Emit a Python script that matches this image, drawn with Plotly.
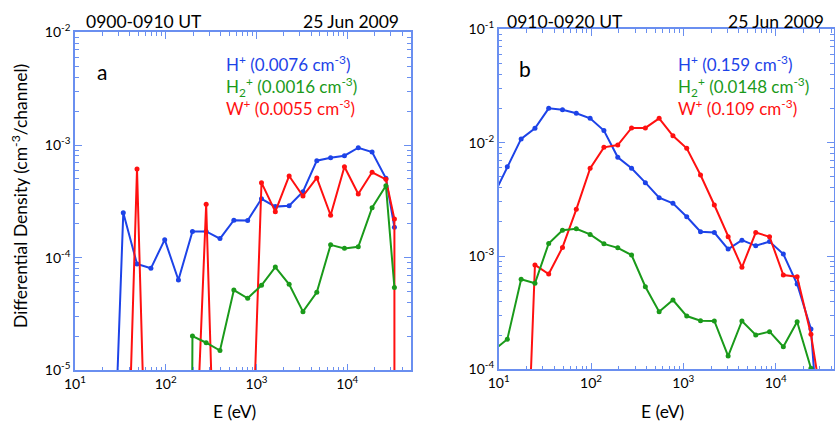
import plotly.graph_objects as go

# ---------------- data ----------------
# Panel a (0900-0910 UT): energy channels (eV)
E_a = [24.0, 34.1, 48.3, 68.7, 97.5, 138, 197, 279, 396, 563, 799, 1134, 1611,
       2287, 3247, 4610, 6546, 9295, 13200, 18740, 26600, 33000]
H_a = [1e-7, 2.5e-4, 8.8e-5, 8.05e-5, 1.445e-4, 6.34e-5, 1.71e-4, 1.71e-4, 1.477e-4,
       2.15e-4, 2.14e-4, 3.33e-4, 2.84e-4, 2.89e-4, 3.85e-4, 7.26e-4, 7.7e-4,
       8.04e-4, 9.46e-4, 8.67e-4, 5.06e-4, 1.86e-4]
H2_a = [None, None, None, None, None, 1e-30, 2.02e-5, 1.76e-5, 1.50e-5, 5.16e-5,
        4.36e-5, 5.69e-5, 8.26e-5, 5.81e-5, 3.32e-5, 4.93e-5, 1.30e-4, 1.21e-4,
        1.25e-4, 2.78e-4, 4.35e-4, 5.45e-5]
W_a = [1e-8, 5e-8, 6.12e-4, 2.5e-8, 1e-8, 1e-8, 3e-7, 2.98e-4, 2.4e-8, 1e-8, 1e-7,
       4.63e-4, 2.56e-4, 5.31e-4, 3.52e-4, 5.1e-4, 2.38e-4, 6.42e-4, 3.67e-4,
       5.73e-4, 4.96e-4, 2.2e-4]
E_a_W = E_a + [33100]
W_a = W_a + [1e-30]

# Panel b (0910-0920 UT)
E_b = [8.79, 12.4, 17.5, 24.7, 34.8, 49.1, 69.3, 97.8, 138, 195, 275, 388, 547,
       772, 1089, 1536, 2168, 3059, 4315, 6089, 8590, 12120, 17100, 24130, 34040]
H_b = [3.42e-3, 6.14e-3, 1.08e-2, 1.34e-2, 2.01e-2, 1.95e-2, 1.82e-2, 1.64e-2,
       1.28e-2, 7.43e-3, 5.94e-3, 4.44e-3, 3.27e-3, 2.92e-3, 2.22e-3, 1.64e-3,
       1.61e-3, 1.15e-3, 1.38e-3, 1.23e-3, 1.34e-3, 1.04e-3, 5.66e-4, 2.27e-4, 5e-6]
H2_b = [1.47e-4, 1.84e-4, 6.22e-4, 5.74e-4, 1.29e-3, 1.69e-3, 1.74e-3, 1.55e-3,
        1.28e-3, 1.18e-3, 1.02e-3, 5.36e-4, 3.22e-4, 4.09e-4, 2.95e-4, 2.68e-4,
        2.67e-4, 1.31e-4, 2.67e-4, 2.01e-4, 2.15e-4, 1.58e-4, 2.63e-4, 1.02e-4, None]
W_b = [1e-8, 1e-8, 5e-7, 8.34e-4, 6.93e-4, 1.19e-3, 2.58e-3, 5.94e-3, 9.1e-3,
       9.54e-3, 1.35e-2, 1.35e-2, 1.64e-2, 1.15e-2, 8.93e-3, 5.19e-3, 2.82e-3,
       1.48e-3, 7.94e-4, 1.61e-3, 1.48e-3, 6.79e-4, 6.56e-4, 2.04e-4, 3.5e-5]

x_tickvals = [10, 100, 1000, 10000]
x_ticktext = ["10<sup>1</sup>", "10<sup>2</sup>", "10<sup>3</sup>", "10<sup>4</sup>"]
ya_tickvals = [1e-5, 1e-4, 1e-3, 1e-2]
ya_ticktext = ["10<sup>-5</sup>", "10<sup>-4</sup>", "10<sup>-3</sup>", "10<sup>-2</sup>"]
yb_tickvals = [1e-4, 1e-3, 1e-2, 1e-1]
yb_ticktext = ["10<sup>-4</sup>", "10<sup>-3</sup>", "10<sup>-2</sup>", "10<sup>-1</sup>"]

legend_a = ["H<sup>+</sup> (0.0076 cm<sup>-3</sup>)",
            "H<sub>2</sub><sup>+</sup> (0.0016 cm<sup>-3</sup>)",
            "W<sup>+</sup> (0.0055 cm<sup>-3</sup>)"]
legend_b = ["H<sup>+</sup> (0.159 cm<sup>-3</sup>)",
            "H<sub>2</sub><sup>+</sup> (0.0148 cm<sup>-3</sup>)",
            "W<sup>+</sup> (0.109 cm<sup>-3</sup>)"]

# ---------------- style ----------------
BLUE = "#1d43e8"
GREEN = "#1a9a1a"
RED = "#ff1010"
AXC = "#6a8ff0"
FONT = "Lato"
W, H = 835, 422

fig = go.Figure()

def add(x, y, color, xa, ya):
    fig.add_trace(go.Scatter(x=x, y=y, mode="lines+markers", xaxis=xa, yaxis=ya,
                             line=dict(color=color, width=2),
                             marker=dict(color=color, size=5),
                             connectgaps=False, showlegend=False, hoverinfo="skip"))

add(E_a, H_a, BLUE, "x", "y")
add(E_a_W, W_a, RED, "x", "y")
add(E_a, H2_a, GREEN, "x", "y")
add(E_b, H_b, BLUE, "x2", "y2")
add(E_b, W_b, RED, "x2", "y2")
add(E_b, H2_b, GREEN, "x2", "y2")

def minor_vals(lo, hi):
    v = []
    for e in range(lo, hi + 1):
        for m in range(2, 10):
            v.append(m * 10.0 ** e)
    return v

common = dict(type="log", showline=True, linecolor=AXC, linewidth=1.5, mirror="allticks",
              ticks="inside", ticklen=7, tickwidth=1.3, tickcolor=AXC, showgrid=False,
              zeroline=False, automargin=False,
              tickfont=dict(family=FONT, size=14, color="black"))

fig.update_layout(
    width=W, height=H, margin=dict(l=0, r=0, t=0, b=0),
    paper_bgcolor="white", plot_bgcolor="white",
    xaxis=dict(domain=[74.9 / W, 410.8 / W], range=[1, 4.699], anchor="y",
               tickmode="array", tickvals=x_tickvals, ticktext=x_ticktext,
               minor=dict(tickmode="array", tickvals=minor_vals(1, 4), ticks="inside",
                          ticklen=4, tickcolor=AXC, tickwidth=1), **common),
    yaxis=dict(domain=[1 - 370.4 / H, 1 - 32.3 / H], range=[-5, -2], anchor="x",
               tickmode="array", tickvals=ya_tickvals, ticktext=ya_ticktext,
               minor=dict(tickmode="array", tickvals=minor_vals(-5, -3), ticks="inside",
                          ticklen=4, tickcolor=AXC, tickwidth=1), **common),
    xaxis2=dict(domain=[498.7 / W, 833.5 / W], range=[1, 4.627], anchor="y2",
                tickmode="array", tickvals=x_tickvals, ticktext=x_ticktext,
                minor=dict(tickmode="array", tickvals=minor_vals(1, 4), ticks="inside",
                           ticklen=4, tickcolor=AXC, tickwidth=1), **common),
    yaxis2=dict(domain=[1 - 369.3 / H, 1 - 29.4 / H], range=[-4, -1], anchor="x2",
                tickmode="array", tickvals=yb_tickvals, ticktext=yb_ticktext,
                minor=dict(tickmode="array", tickvals=minor_vals(-4, -2), ticks="inside",
                           ticklen=4, tickcolor=AXC, tickwidth=1), **common),
)

ann = []
def txt(x, y, s, size=17, color="black", xanchor="left", angle=0):
    ann.append(dict(x=x / W, y=1 - y / H, xref="paper", yref="paper", text=s,
                    showarrow=False, xanchor=xanchor, yanchor="middle", textangle=angle,
                    align="left", font=dict(family=FONT, size=size, color=color)))

txt(84, 21, "0900-0910 UT", size=17.5)
txt(401, 21, "25 Jun 2009", xanchor="right", size=17.5)
txt(505, 21, "0910-0920 UT", size=17.5)
txt(826, 21, "25 Jun 2009", xanchor="right", size=17.5)
txt(95, 71, "a", size=21)
txt(517, 69, "b", size=21)

def legend_block(lines):
    return "<br>".join("<span style='color:%s'>%s</span>" % (c, s)
                       for s, c in zip(lines, [BLUE, GREEN, RED]))

txt(224, 85, legend_block(legend_a))
txt(676, 85, legend_block(legend_b))
txt(234, 411, "E (eV)", xanchor="center", size=17.5)
txt(662, 411, "E (eV)", xanchor="center", size=17.5)
txt(19, 196, "Differential Density (cm<sup>-3</sup>/channel)", xanchor="center",
    angle=-90, size=17.5)

fig.update_layout(annotations=ann)
fig.write_html("out.html")
